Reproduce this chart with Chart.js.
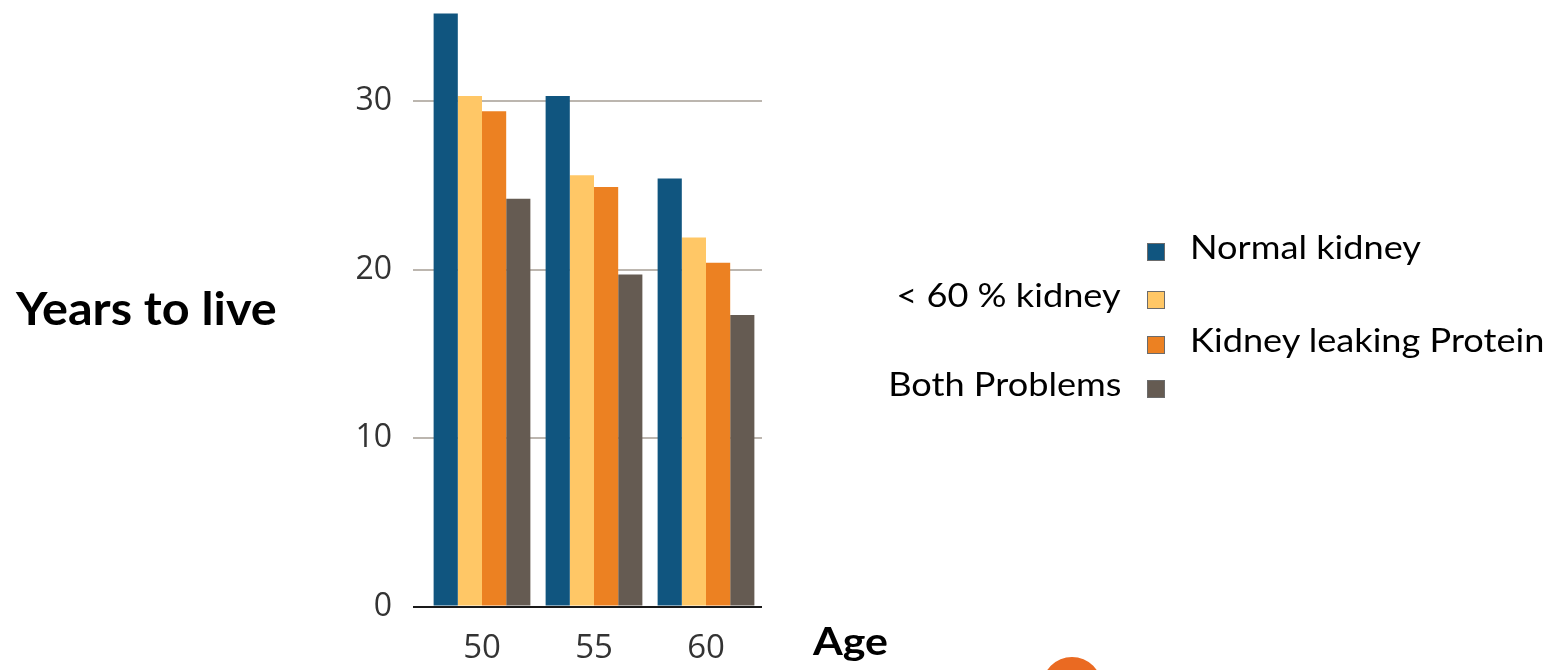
<!DOCTYPE html>
<html>
<head>
<meta charset="utf-8">
<script src="https://cdn.jsdelivr.net/npm/chart.js@4.4.1/dist/chart.umd.min.js"></script>
<style>
  html, body { margin: 0; padding: 0; background: #ffffff; }
  #wrap { position: relative; width: 1568px; height: 670px; overflow: hidden; background: #fff; }
  #c { position: absolute; left: 0; top: 0; }
  .lbl { position: absolute; font-family: Lato, "Open Sans", sans-serif; line-height: 1.2; white-space: nowrap; color: #000; }
  .bold { font-weight: 700; }
  .box { position: absolute; width: 16px; height: 16px; border: 1px solid #6b6b6b; }
  #dot { position: absolute; border-radius: 50%; background: #EA6A22; }
</style>
</head>
<body>
<div id="wrap">
  <canvas id="c" width="1568" height="670"></canvas>
  <div id="yTitle" class="lbl bold">Years to live</div>
  <div id="xTitle" class="lbl bold">Age</div>
  <div id="legend"></div>
  <div id="dot"></div>
</div>
<script>
// ---- data ----
const categories = ['50', '55', '60'];
const seriesNames = ['Normal kidney', '< 60 % kidney', 'Kidney leaking Protein', 'Both Problems'];
const normalKidney = [35.2, 30.3, 25.4];
const below60Kidney = [30.3, 25.6, 21.9];
const leakingProtein = [29.4, 24.9, 20.4];
const bothProblems = [24.2, 19.7, 17.3];
const yTickValues = [0, 10, 20, 30];

// ---- styles ----
const colors = ['#10557F', '#FFC766', '#EC8122', '#655B52'];
const legendSide = ['right', 'left', 'right', 'left'];
const legendBaselines = [260, 308, 353, 397];

const seriesValues = [normalKidney, below60Kidney, leakingProtein, bothProblems];

const chart = new Chart(document.getElementById('c'), {
  type: 'bar',
  data: {
    labels: categories,
    datasets: seriesNames.map((name, i) => ({
      label: name,
      data: seriesValues[i],
      backgroundColor: colors[i],
      borderWidth: 0,
      barPercentage: 1.0,
      categoryPercentage: 0.864
    }))
  },
  options: {
    responsive: false,
    animation: false,
    devicePixelRatio: 1,
    layout: { padding: { left: 0, right: 806, top: 0, bottom: 0 } },
    plugins: { legend: { display: false }, tooltip: { enabled: false } },
    scales: {
      x: {
        grid: { display: false },
        border: { display: false },
        ticks: {
          color: '#333333',
          padding: 14,
          font: { family: 'Open Sans', size: 33 }
        },
        afterFit: (s) => { s.height = 63.5; s.paddingLeft = 0; s.paddingRight = 0; }
      },
      y: {
        min: 0,
        max: 36,
        border: { display: false },
        grid: {
          color: (ctx) => (ctx.tick && ctx.tick.value === 0 ? '#1a1a1a' : '#bcb6af'),
          lineWidth: 2,
          tickLength: 13,
          drawTicks: true
        },
        ticks: {
          stepSize: 10,
          includeBounds: false,
          color: '#333333',
          padding: 21,
          font: { family: 'Open Sans', size: 32 }
        },
        afterBuildTicks: (s) => { s.ticks = yTickValues.map(v => ({ value: v })); },
        afterFit: (s) => { s.width = 426; s.paddingTop = 0; s.paddingBottom = 0; }
      }
    }
  }
});

// ---- overlay text & legend ----
function placeBaseline(el, size, baseline) {
  el.style.fontSize = size + 'px';
  el.style.top = (baseline - 0.987 * size) + 'px';
}
const yT = document.getElementById('yTitle');
placeBaseline(yT, 45, 325);
yT.style.left = '16px';
yT.style.transformOrigin = 'left center';
yT.style.transform = 'scaleX(1.08)';
const xT = document.getElementById('xTitle');
placeBaseline(xT, 38, 656);
xT.style.left = '813px';
xT.style.transformOrigin = 'left center';
xT.style.transform = 'scaleX(1.13)';

const legend = document.getElementById('legend');
const boxLeft = 1147, boxSize = 18;
chart.data.datasets.forEach((ds, i) => {
  const b = legendBaselines[i];
  const box = document.createElement('div');
  box.className = 'box';
  box.style.background = ds.backgroundColor;
  box.style.left = boxLeft + 'px';
  box.style.top = (b - 17) + 'px';
  legend.appendChild(box);
  const t = document.createElement('div');
  t.className = 'lbl';
  t.textContent = ds.label;
  placeBaseline(t, 32, b);
  if (legendSide[i] === 'right') {
    t.style.left = (boxLeft + boxSize + 25) + 'px';
    t.style.transformOrigin = 'left center';
  } else {
    t.style.right = (1568 - (boxLeft - 26)) + 'px';
    t.style.transformOrigin = 'right center';
  }
  t.style.transform = 'scaleX(1.13)';
  legend.appendChild(t);
});

const dot = document.getElementById('dot');
const r = 30;
dot.style.width = dot.style.height = (2 * r) + 'px';
dot.style.left = (1072 - r) + 'px';
dot.style.top = (687 - r) + 'px';
</script>
</body>
</html>
